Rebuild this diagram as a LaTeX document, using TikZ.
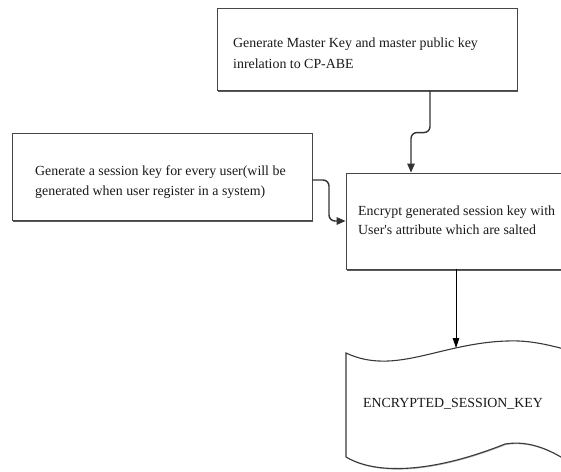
\documentclass[tikz,border=0pt]{standalone}
\usepackage{fontspec}
\setmainfont{Liberation Serif}[Ligatures=TeXOff]
\usetikzlibrary{arrows.meta,shadows}
\begin{document}
\begin{tikzpicture}[x=1pt,y=-1pt,
  box/.style={rectangle, draw=gray!55!black, line width=0.9pt, fill=white, inner sep=0pt,
    drop shadow={shadow xshift=1.4pt, shadow yshift=-1.8pt, fill=gray!70!black, opacity=1}},
  txt/.style={anchor=base west, inner sep=0pt, font=\fontsize{13.9}{16}\selectfont, text=black!90},
  arr/.style={draw=black!80, line width=1.4pt, rounded corners=6pt, -{Triangle[length=9pt,width=7.5pt]}},
  flow/.style={draw=black, line width=0.8pt, -{Triangle[length=10pt,width=6.5pt]}}]
\useasboundingbox (0,0) rectangle (561,471);
\fill[white] (0,0) rectangle (561,471);

% process boxes
\node[box, minimum width=300pt, minimum height=82pt] (m) at (367,49) {};
\node[box, minimum width=300pt, minimum height=87pt] (s) at (162,176.5) {};
\node[box, minimum width=220pt, minimum height=96pt] (e) at (456,221) {};

% box texts
\node[txt] (m1) at (233,47) {Generate Master Key and master public key};
\node[txt] (m2) at (233,68) {inrelation to CP-ABE};
\node[txt] (s1) at (35,175) {Generate a session key for every user(will be};
\node[txt] (s2) at (35,195) {generated when user register in a system)};
\node[txt] (e1) at (358,215) {Encrypt generated session key with};
\node[txt] (e2) at (358,234) {User's attribute which are salted};

% stored document with wavy edges
\draw[draw=gray!45!black, line width=1.1pt, fill=white,
      drop shadow={shadow xshift=0.8pt, shadow yshift=-1pt, fill=gray!60, opacity=1}]
  (346,353) .. controls (395,376) and (440,343) .. (507,341)
  .. controls (530,340) and (550,345) .. (575,352) -- (575,466)
  .. controls (552,450) and (530,440) .. (505,444)
  .. controls (440,470) and (380,477) .. (346,457) -- cycle;
\node[txt, anchor=base] (k) at (453,407) {ENCRYPTED\_SESSION\_KEY};
\coordinate (ktop) at (456,348);

% connectors
\draw[arr] ([xshift=63pt]m.south) |- ([xshift=-45pt,yshift=40pt]e.north) -- ([xshift=-45pt]e.north);
\draw[arr] ([yshift=-3.5pt]s.east) -| (329,221) -- (e.west);
\draw[flow] (e.south) -- (ktop);
\end{tikzpicture}
\end{document}
